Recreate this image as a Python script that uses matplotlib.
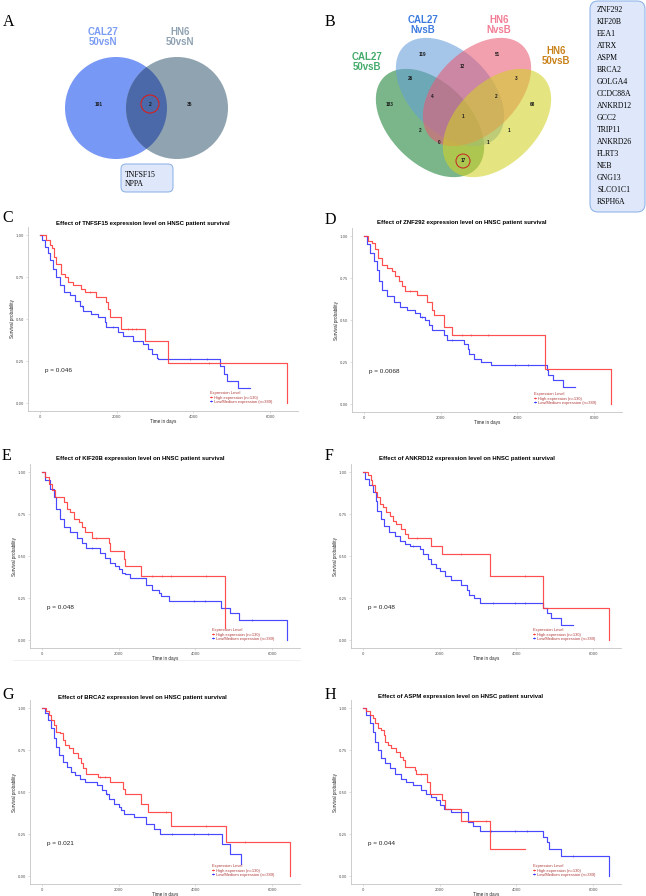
import numpy as np
import matplotlib
matplotlib.use("Agg")
import matplotlib.pyplot as plt
from matplotlib.patches import Circle, Ellipse, FancyBboxPatch
from matplotlib.lines import Line2D

# ---------------- data ----------------
venn_a_sets = ["CAL27\n50vsN", "HN6\n50vsN"]
venn_a_counts = [191, 2, 36]          # left only, both, right only
venn_a_genes = ["TNFSF15", "NPPA"]

venn_b_sets = ["CAL27\n50vsB", "CAL27\nNvsB", "HN6\nNvsB", "HN6\n50vsB"]
# region counts (in reading order of the picture)
venn_b_counts = [119, 51, 12, 26, 3, 183, 4, 2, 68, 1, 2, 1, 0, 1, 17]
venn_b_genes = ["ZNF292", "KIF20B", "EEA1", "ATRX", "ASPM", "BRCA2", "GOLGA4",
                "CCDC88A", "ANKRD12", "GCC2", "TRIP11", "ANKRD26", "FLRT3",
                "NEB", "GNG13", "SLCO1C1", "RSPH6A"]

km_genes = ["TNFSF15", "ZNF292", "KIF20B", "ANKRD12", "BRCA2", "ASPM"]
km_pvalues = ["0.046", "0.0068", "0.048", "0.048", "0.021", "0.044"]
legend_labels = ["High expression (n=130)", "Low/Medium expression (n=389)"]
x_ticks = [0, 2000, 4000, 6000]
y_ticks = [0.00, 0.25, 0.50, 0.75, 1.00]

C_high_t = [0,165,250,300,365,430,560,645,730,860,1080,1170,1470,1730,1780,1820,2125,2750,3330,6437]
C_high_s = [1.0,0.97,0.94,0.92,0.87,0.83,0.77,0.75,0.72,0.70,0.68,0.66,0.63,0.60,0.56,0.51,0.44,0.37,0.24,0.0]
C_low_t = [0,60,120,210,270,340,430,515,620,775,905,1040,1125,1340,1515,1690,1730,2040,2170,2430,2690,2820,2910,3040,3080,4690,4800,4870,5150,5480]
C_low_s = [1.0,0.97,0.93,0.89,0.85,0.80,0.75,0.70,0.66,0.64,0.61,0.58,0.55,0.53,0.51,0.48,0.45,0.42,0.40,0.37,0.35,0.32,0.29,0.27,0.26,0.22,0.17,0.13,0.09,0.09]

D_high_t = [0,115,200,290,375,465,595,730,800,900,990,1080,1385,1650,1780,1825,2090,2300,4720,6430]
D_high_s = [1.0,0.97,0.96,0.92,0.87,0.83,0.81,0.79,0.76,0.73,0.70,0.67,0.65,0.61,0.56,0.53,0.46,0.41,0.21,0.0]
D_low_t = [0,70,160,265,330,395,480,600,770,950,1120,1340,1470,1600,1690,1780,2090,2175,2610,2700,2745,2875,3050,3315,4760,4805,4920,5180,5510]
D_low_s = [1.0,0.95,0.90,0.85,0.80,0.73,0.68,0.64,0.61,0.58,0.56,0.54,0.52,0.50,0.47,0.44,0.41,0.38,0.36,0.33,0.30,0.27,0.25,0.23,0.20,0.17,0.14,0.10,0.10]

E_high_t = [0,87,175,260,350,565,650,740,825,955,1045,1130,1305,1740,1785,2130,2175,2585,4760]
E_high_s = [1.0,0.97,0.93,0.89,0.85,0.82,0.78,0.76,0.72,0.70,0.67,0.64,0.61,0.58,0.53,0.48,0.44,0.38,0.07]
E_low_t = [0,87,200,305,375,460,565,740,915,1045,1160,1520,1650,1785,1915,2000,2090,2175,2305,2715,2870,3045,3090,3305,4670,4900,5140,6395]
E_low_s = [1.0,0.95,0.90,0.85,0.78,0.72,0.67,0.64,0.61,0.58,0.55,0.52,0.49,0.46,0.44,0.42,0.40,0.39,0.37,0.33,0.30,0.28,0.26,0.23,0.19,0.16,0.12,0.0]

F_high_t = [0,130,200,245,305,365,435,520,610,695,785,870,985,1090,1175,1765,2060,3305,4700,6410]
F_high_s = [1.0,0.98,0.95,0.92,0.88,0.85,0.81,0.79,0.76,0.74,0.71,0.69,0.66,0.63,0.61,0.56,0.51,0.38,0.19,0.0]
F_low_t = [0,60,150,260,330,375,460,550,670,825,955,1090,1220,1480,1565,1695,1765,1915,2000,2130,2305,2565,2700,2760,2900,3045,4700,4785,4900,5160,5480]
F_low_s = [1.0,0.96,0.92,0.88,0.83,0.77,0.72,0.68,0.64,0.62,0.59,0.57,0.56,0.54,0.51,0.48,0.45,0.43,0.41,0.38,0.36,0.33,0.30,0.27,0.25,0.22,0.19,0.16,0.13,0.09,0.09]

G_high_t = [0,115,185,245,305,375,465,535,595,710,815,945,1010,1080,1150,1450,1780,2115,2175,2590,2760,3360,4805,6470]
G_high_s = [1.0,0.98,0.96,0.93,0.90,0.86,0.85,0.81,0.78,0.76,0.73,0.70,0.67,0.64,0.61,0.59,0.56,0.52,0.49,0.43,0.38,0.30,0.20,0.0]
G_low_t = [0,70,160,245,315,375,445,535,640,745,860,990,1120,1430,1560,1675,1735,1870,2000,2070,2130,2395,2720,2920,3080,4700,4895,5185]
G_low_s = [1.0,0.97,0.93,0.88,0.82,0.77,0.72,0.68,0.65,0.62,0.60,0.58,0.56,0.54,0.51,0.49,0.46,0.43,0.41,0.39,0.37,0.35,0.31,0.28,0.25,0.19,0.13,0.07]

H_high_t = [0,85,175,260,320,390,480,550,585,650,740,870,955,1045,1090,1350,1390,1670,1740,2060,2130,2550,3305,4220]
H_high_s = [1.0,0.98,0.96,0.94,0.91,0.88,0.87,0.84,0.80,0.78,0.76,0.74,0.71,0.69,0.65,0.63,0.61,0.56,0.49,0.45,0.40,0.33,0.16,0.16]
H_low_t = [0,85,175,260,320,390,480,585,695,825,1000,1130,1305,1520,1655,1785,1915,2000,2115,2290,2725,2870,3045,4700,4785,4845,5160,6410]
H_low_s = [1.0,0.96,0.91,0.86,0.80,0.75,0.70,0.67,0.64,0.61,0.58,0.56,0.54,0.51,0.49,0.47,0.45,0.42,0.40,0.38,0.32,0.30,0.27,0.23,0.20,0.16,0.12,0.0]

# censor times
C_high_c = [1300, 2300, 2400, 2500, 4400]
C_low_c = [1100, 1900, 3900, 4350]
D_high_c = [1200, 2550, 2790, 3230]
D_low_c = [1500, 2300, 3930, 4280]
E_high_c = [1400, 2870, 3130, 3370, 4280]
E_low_c = [1300, 3960, 4240, 5480]
F_high_c = [1400, 2565, 4220]
F_low_c = [1300, 3390, 3960, 4220]
G_high_c = [1500, 1650, 3230, 4280, 5290]
G_low_c = [1700, 3400, 3970, 4325]
H_high_c = [1500, 3220]
H_low_c = [3350, 3960, 4265, 5480]

km_curves = [
    (C_high_t, C_high_s, C_high_c, C_low_t, C_low_s, C_low_c),
    (D_high_t, D_high_s, D_high_c, D_low_t, D_low_s, D_low_c),
    (E_high_t, E_high_s, E_high_c, E_low_t, E_low_s, E_low_c),
    (F_high_t, F_high_s, F_high_c, F_low_t, F_low_s, F_low_c),
    (G_high_t, G_high_s, G_high_c, G_low_t, G_low_s, G_low_c),
    (H_high_t, H_high_s, H_high_c, H_low_t, H_low_s, H_low_c),
]

# ---------------- figure ----------------
W, H = 646, 896
fig = plt.figure(figsize=(W / 100, H / 100), dpi=100)
fig.patch.set_facecolor("white")

bg = fig.add_axes([0, 0, 1, 1])
bg.set_xlim(0, W)
bg.set_ylim(H, 0)
bg.axis("off")

SANS = ["Liberation Sans", "DejaVu Sans"]
SERIF = ["Liberation Serif", "DejaVu Serif"]

# panel letters
for letter, (lx, ly) in zip("ABCDEFGH", [(3, 22), (325, 22), (2, 218), (325, 220),
                                          (2, 456), (325, 456), (2, 695), (325, 695)]):
    bg.text(lx, ly, letter, family=SERIF, fontsize=11.5, ha="left", va="center")

# ---- Venn A ----
cl = Circle((116, 108), 51, facecolor="#7898f5", edgecolor="none")
cr = Circle((177, 108), 51, facecolor="#8fa3b1", edgecolor="none")
bg.add_patch(cl)
bg.add_patch(cr)
lens = Circle((116, 108), 51, facecolor="#4b69a9", edgecolor="none")
bg.add_patch(lens)
lens.set_clip_path(cr)
bg.text(103, 37, venn_a_sets[0], family=SANS, fontsize=7, fontweight="bold",
        color="#7b9cf3", ha="center", va="center", linespacing=1.05)
bg.text(180, 37, venn_a_sets[1], family=SANS, fontsize=7, fontweight="bold",
        color="#8fa2b2", ha="center", va="center", linespacing=1.05)
for val, (nx, ny) in zip(venn_a_counts, [(99, 104), (150, 104), (190, 104)]):
    bg.text(nx, ny, str(val), family=SANS, fontsize=3.5, fontweight="bold",
            ha="center", va="center", color="#1a1a1a")
bg.add_patch(Circle((150, 104), 9, facecolor="none", edgecolor="#d42020", lw=0.8))
bg.add_patch(FancyBboxPatch((121, 164), 52, 28, boxstyle="round,pad=0,rounding_size=5",
                            facecolor="#dfe8fa", edgecolor="#86aee6", lw=0.7))
bg.text(125, 171, "\n".join(venn_a_genes), family=SERIF, fontsize=5.6,
        ha="left", va="top", linespacing=1.25)

# ---- Venn B ----
ell_specs = [((430, 123), 45, "#1a8236"), ((450, 92), 45, "#659ed8"),
             ((477, 92), -45, "#ea5a74"), ((497, 123), -45, "#d2d226")]
for (cxy, ang, col) in ell_specs:
    bg.add_patch(Ellipse(cxy, 130, 81, angle=ang, facecolor=col, alpha=0.58,
                         edgecolor="none"))
b_label_pos = [(367, 62), (423, 25), (499, 25), (556, 56)]
b_label_col = ["#45ab6c", "#3d7be0", "#f27d94", "#c9821b"]
for name, (tx, ty), col in zip(venn_b_sets, b_label_pos, b_label_col):
    bg.text(tx, ty, name, family=SANS, fontsize=7, fontweight="bold", color=col,
            ha="center", va="center", linespacing=1.05)
b_num_pos = [(422, 54), (497, 54), (462, 66), (410, 78), (516, 78), (390, 104),
             (432, 97), (496, 97), (533, 104), (463, 116), (420, 131), (509, 131),
             (439, 142), (488, 142), (463, 161)]
for val, (nx, ny) in zip(venn_b_counts, b_num_pos):
    bg.text(nx, ny, str(val), family=SANS, fontsize=3.3, fontweight="bold",
            ha="center", va="center", color="#1a1a1a")
bg.add_patch(Circle((463, 161), 7, facecolor="none", edgecolor="#c82020", lw=0.7))

bg.add_patch(FancyBboxPatch((590, 1), 55, 211, boxstyle="round,pad=0,rounding_size=8",
                            facecolor="#dfe8fa", edgecolor="#86aee6", lw=0.7))
for i, g in enumerate(venn_b_genes):
    bg.text(597, 10 + 12.0 * i, g, family=SERIF, fontsize=5.6, ha="left", va="center")

# faint frame line under panel E
bg.plot([13, 300], [660, 660], color="#ececec", lw=0.6)

# ---- KM panels ----
PXD = 0.03835       # pixels per day
PXS = 168.0         # pixels per unit survival
XMIN, XMAX = -320, 6740
YMIN, YMAX = -0.05, 1.05
panel_origin = [(40, 235), (364, 236), (42, 472), (363, 472), (42, 708), (363, 708)]
title_pos = [(143, 223), (462, 222), (140, 458), (467, 458), (142, 697), (461, 696)]

RED = "#ff3c3c"
BLUE = "#3535ff"
LEGC = "#b03a3a"


def surv_at(t, s, times):
    t = np.asarray(t)
    s = np.asarray(s)
    idx = np.searchsorted(t, np.asarray(times), side="right") - 1
    return s[idx]


for k, (gene, pval, curves, (x0, y1), (tx, ty)) in enumerate(
        zip(km_genes, km_pvalues, km_curves, panel_origin, title_pos)):
    left = x0 + XMIN * PXD
    top = y1 - (YMAX - 1.0) * PXS
    w = (XMAX - XMIN) * PXD
    h = (YMAX - YMIN) * PXS
    ax = fig.add_axes([left / W, 1 - (top + h) / H, w / W, h / H])
    ax.set_xlim(XMIN, XMAX)
    ax.set_ylim(YMIN, YMAX)
    ax.set_facecolor("none")
    for sp in ["top", "right"]:
        ax.spines[sp].set_visible(False)
    for sp in ["left", "bottom"]:
        ax.spines[sp].set_color("#c4c4c4")
        ax.spines[sp].set_linewidth(0.6)
    ax.set_xticks(x_ticks)
    ax.set_xticklabels([str(v) for v in x_ticks])
    ax.set_yticks(y_ticks)
    ax.set_yticklabels(["%.2f" % v for v in y_ticks])
    ax.tick_params(length=1.5, width=0.4, colors="#c4c4c4", labelsize=2.7,
                   labelcolor="#4d4d4d", pad=1.2)
    ht, hs, hc, lt, ls, lc = curves
    ax.step(ht, hs, where="post", color=RED, lw=0.85, alpha=0.9, zorder=3)
    ax.step(lt, ls, where="post", color=BLUE, lw=0.85, alpha=0.9, zorder=2)
    ax.plot(hc, surv_at(ht, hs, hc), ls="none", marker="|", ms=1.6, mew=0.4,
            color=RED, zorder=3)
    ax.plot(lc, surv_at(lt, ls, lc), ls="none", marker="|", ms=1.6, mew=0.4,
            color=BLUE, zorder=2)
    ax.set_ylabel("Survival probability", family=SANS, fontsize=3.3, color="#222222")
    ax.yaxis.set_label_coords(-12.7 / w, 0.5)
    ax.set_xlabel("Time in days", family=SANS, fontsize=3.3, color="#222222")
    ax.xaxis.set_label_coords(0.5, -7.8 / h)
    ax.text(120, 0.195, "p = " + pval, family=SANS, fontsize=4.6, ha="left",
            va="center", color="#222222")
    fig.text(tx / W, 1 - ty / H, "Effect of %s expression level on HNSC patient survival" % gene,
             family=SANS, fontsize=4.3, fontweight="bold", ha="center", va="center")
    handles = [Line2D([], [], color=RED, lw=0.6, marker="+", ms=1.5, mew=0.4),
               Line2D([], [], color=BLUE, lw=0.6, marker="+", ms=1.5, mew=0.4)]
    leg = ax.legend(handles, legend_labels, title="Expression Level",
                    loc="lower left", bbox_to_anchor=(4420, -0.005),
                    bbox_transform=ax.transData, frameon=False,
                    prop={"family": SANS, "size": 2.9}, title_fontsize=2.9,
                    handlelength=0.7, handletextpad=0.3, labelspacing=0.05,
                    borderpad=0, borderaxespad=0, labelcolor=LEGC, alignment="left")
    leg.get_title().set_color(LEGC)
    leg.get_title().set_family(SANS)

fig.savefig("out.png", dpi=100, facecolor="white")
